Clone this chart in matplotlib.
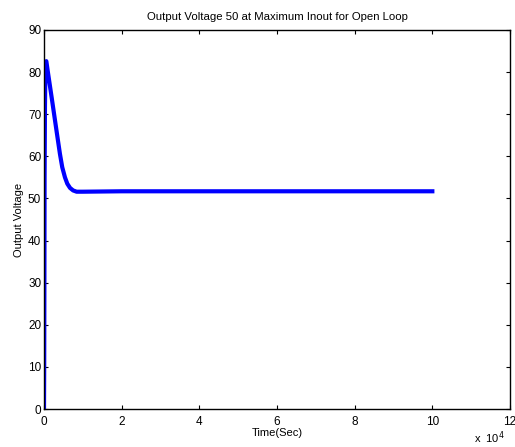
import numpy as np
import matplotlib.pyplot as plt

plt.rcParams['font.family'] = ['Liberation Sans', 'DejaVu Sans']

# output voltage vs time
time_s = [0, 50, 100, 150, 250, 350, 450, 600, 1000, 1500, 2000, 2650,
          3300, 4100, 4700, 5400, 6000, 6700, 7500, 8400,
          10000, 20000, 40000, 60000, 80000, 100000]
voltage = [0, 10, 30, 55, 72, 80, 82.4, 82.6, 80, 76.9, 73.8, 69.7,
           65.6, 60.6, 57.4, 55, 53.5, 52.5, 51.9, 51.6,
           51.6, 51.7, 51.7, 51.7, 51.7, 51.7]

x_ticks = [0, 20000, 40000, 60000, 80000, 100000, 120000]
x_labels = ['0', '2', '4', '6', '8', '10', '12']
y_ticks = list(range(0, 91, 10))

fig = plt.figure(figsize=(5.15, 4.47), dpi=100)
ax = fig.add_axes([44 / 515, 38 / 447, 466 / 515, 379 / 447])

ax.plot(time_s, voltage, color='#0000ff', linewidth=3)

ax.set_xlim(0, 120000)
ax.set_ylim(0, 90)
ax.set_xticks(x_ticks)
ax.set_xticklabels(x_labels)
ax.set_yticks(y_ticks)
ax.tick_params(direction='in', top=True, right=True, labelsize=8.5, length=3,
               width=0.8)
ax.tick_params(axis='x', pad=5)
ax.tick_params(axis='y', pad=2)
for s in ax.spines.values():
    s.set_linewidth(1.0)

ax.set_title('Output Voltage 50 at Maximum Inout for Open Loop', fontsize=8.2, pad=7)
ax.set_xlabel('Time(Sec)', fontsize=8, labelpad=0)
ax.set_ylabel('Output Voltage', fontsize=8, labelpad=3)
ax.text(0.989, -0.077, r'x  10$^{4}$', transform=ax.transAxes, fontsize=8,
        ha='right', va='center')

fig.savefig('out.png', dpi=100)
